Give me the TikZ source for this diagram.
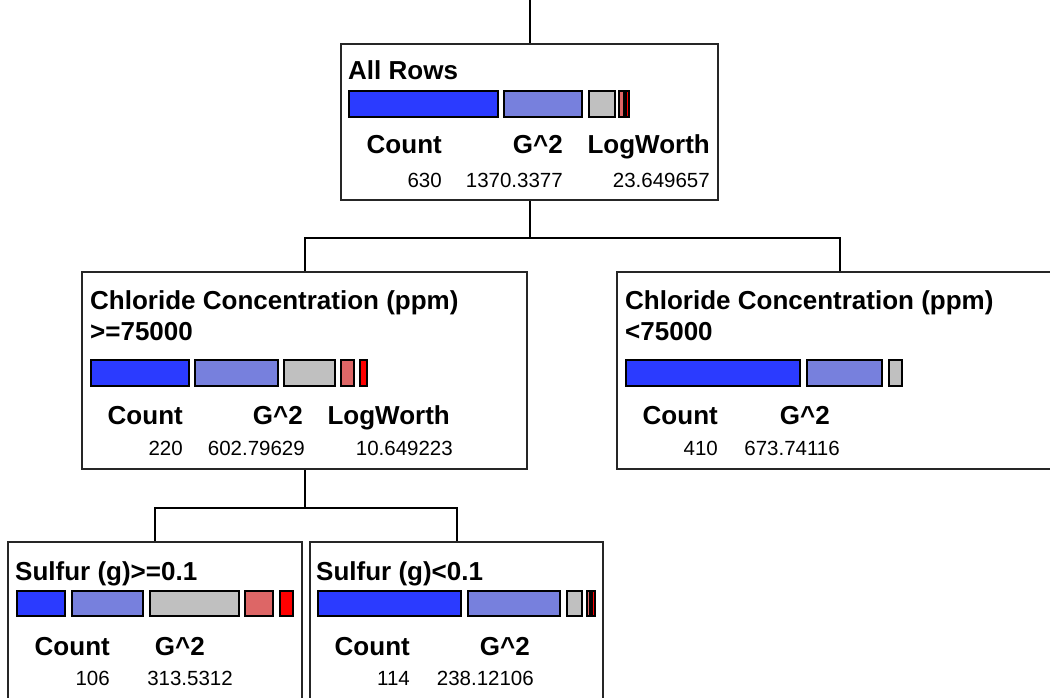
\documentclass[tikz,border=0pt]{standalone}
\usepackage{fontspec}
\setmainfont{Liberation Sans}
\usetikzlibrary{positioning}
\definecolor{segblue}{HTML}{2B3BFF}
\definecolor{seglight}{HTML}{7780DD}
\definecolor{seggray}{HTML}{C0C0C0}
\definecolor{segpink}{HTML}{DD6666}
\definecolor{segred}{HTML}{FF0000}

\begin{document}
\begin{tikzpicture}[x=1pt, y=-1pt,
  box/.style={draw=black!85, line width=2pt, inner sep=0pt},
  link/.style={line width=2pt, black},
  seg/.style={draw=black, line width=2pt},
  head/.style={font=\bfseries\fontsize{26}{31}\selectfont, inner sep=0pt},
  num/.style={font=\fontsize{20.5}{24}\selectfont, inner sep=0pt}]
  % 画布大小
  \useasboundingbox (0,0) rectangle (1050,698);
  \clip (0,0) rectangle (1050,698);

  % 节点框
  \node[box, minimum width=377pt, minimum height=156pt] (root) at (529.5,122) {};
  \node[box, minimum width=445pt, minimum height=197pt] (lchild) at (304.5,370.5) {};
  \node[box, minimum width=446pt, minimum height=197pt] (rchild) at (840,370.5) {};
  \node[box, minimum width=294pt, minimum height=180pt] (blchild) at (155,632) {};
  \node[box, minimum width=293pt, minimum height=180pt] (brchild) at (456.5,632) {};

  % 连线
  \coordinate (top) at (529.5,0);
  \draw[link] (top) -- (root.north);
  \draw[link] (root.south) -- ++(0,37) -| (lchild.north);
  \draw[link] (root.south) -- ++(0,37) -| (rchild.north);
  \draw[link] (lchild.south) -- ++(0,38) -| (blchild.north);
  \draw[link] (lchild.south) -- ++(0,38) -| (brchild.north);

  % All Rows
  \node[head, anchor=base west] (rootT) at (348,80) {All Rows};
  \filldraw[seg, fill=segblue] (349,91) rectangle (498,117);
  \filldraw[seg, fill=seglight] (504,91) rectangle (582,117);
  \filldraw[seg, fill=seggray] (589,91) rectangle (615,117);
  \filldraw[seg, fill=segpink] (619,91) rectangle (624,117);
  \filldraw[seg, fill=segred] (626,91) rectangle (629,117);
  \node[head, anchor=base east] (rootH1) at (442,154) {Count};
  \node[head, anchor=base east] (rootH2) at (563,154) {G\^{}2};
  \node[head, anchor=base east] (rootH3) at (710,154) {LogWorth};
  \node[num, anchor=base east] (rootN1) at (442,187) {630};
  \node[num, anchor=base east] (rootN2) at (563,187) {1370.3377};
  \node[num, anchor=base east] (rootN3) at (710,187) {23.649657};

  % 左子节点
  \node[head, anchor=base west] (lT1) at (90,309) {Chloride Concentration (ppm)};
  \node[head, anchor=base west] (lT2) at (90,340) {>=75000};
  \filldraw[seg, fill=segblue] (91,360) rectangle (189,386);
  \filldraw[seg, fill=seglight] (195,360) rectangle (278,386);
  \filldraw[seg, fill=seggray] (284,360) rectangle (335,386);
  \filldraw[seg, fill=segpink] (341,360) rectangle (354,386);
  \filldraw[seg, fill=segred] (360,360) rectangle (367,386);
  \node[head, anchor=base east] (lH1) at (183,424) {Count};
  \node[head, anchor=base east] (lH2) at (303,424) {G\^{}2};
  \node[head, anchor=base east] (lH3) at (450,424) {LogWorth};
  \node[num, anchor=base east] (lN1) at (183,455) {220};
  \node[num, anchor=base east] (lN2) at (305,455) {602.79629};
  \node[num, anchor=base east] (lN3) at (453,455) {10.649223};

  % 右子节点
  \node[head, anchor=base west] (rT1) at (625,309) {Chloride Concentration (ppm)};
  \node[head, anchor=base west] (rT2) at (625,340) {<75000};
  \filldraw[seg, fill=segblue] (626,360) rectangle (800,386);
  \filldraw[seg, fill=seglight] (807,360) rectangle (882,386);
  \filldraw[seg, fill=seggray] (889,360) rectangle (902,386);
  \node[head, anchor=base east] (rH1) at (718,424) {Count};
  \node[head, anchor=base east] (rH2) at (830,424) {G\^{}2};
  \node[num, anchor=base east] (rN1) at (718,455) {410};
  \node[num, anchor=base east] (rN2) at (840,455) {673.74116};

  % 左下节点
  \node[head, anchor=base west] (blT) at (15,580) {Sulfur (g)>=0.1};
  \filldraw[seg, fill=segblue] (17,591) rectangle (65,616);
  \filldraw[seg, fill=seglight] (72,591) rectangle (143,616);
  \filldraw[seg, fill=seggray] (150,591) rectangle (239,616);
  \filldraw[seg, fill=segpink] (245,591) rectangle (273,616);
  \filldraw[seg, fill=segred] (280,591) rectangle (293,616);
  \node[head, anchor=base east] (blH1) at (110,655) {Count};
  \node[head, anchor=base east] (blH2) at (205,655) {G\^{}2};
  \node[num, anchor=base east] (blN1) at (110,685) {106};
  \node[num, anchor=base east] (blN2) at (233,685) {313.5312};

  % 右下节点
  \node[head, anchor=base west] (brT) at (316,580) {Sulfur (g)<0.1};
  \filldraw[seg, fill=segblue] (318,591) rectangle (461,616);
  \filldraw[seg, fill=seglight] (468,591) rectangle (560,616);
  \filldraw[seg, fill=seggray] (567,591) rectangle (582,616);
  \filldraw[seg, fill=segpink] (587,591) rectangle (590,616);
  \filldraw[seg, fill=segred] (592,591) rectangle (595,616);
  \node[head, anchor=base east] (brH1) at (410,655) {Count};
  \node[head, anchor=base east] (brH2) at (530,655) {G\^{}2};
  \node[num, anchor=base east] (brN1) at (410,685) {114};
  \node[num, anchor=base east] (brN2) at (534,685) {238.12106};
\end{tikzpicture}
\end{document}
